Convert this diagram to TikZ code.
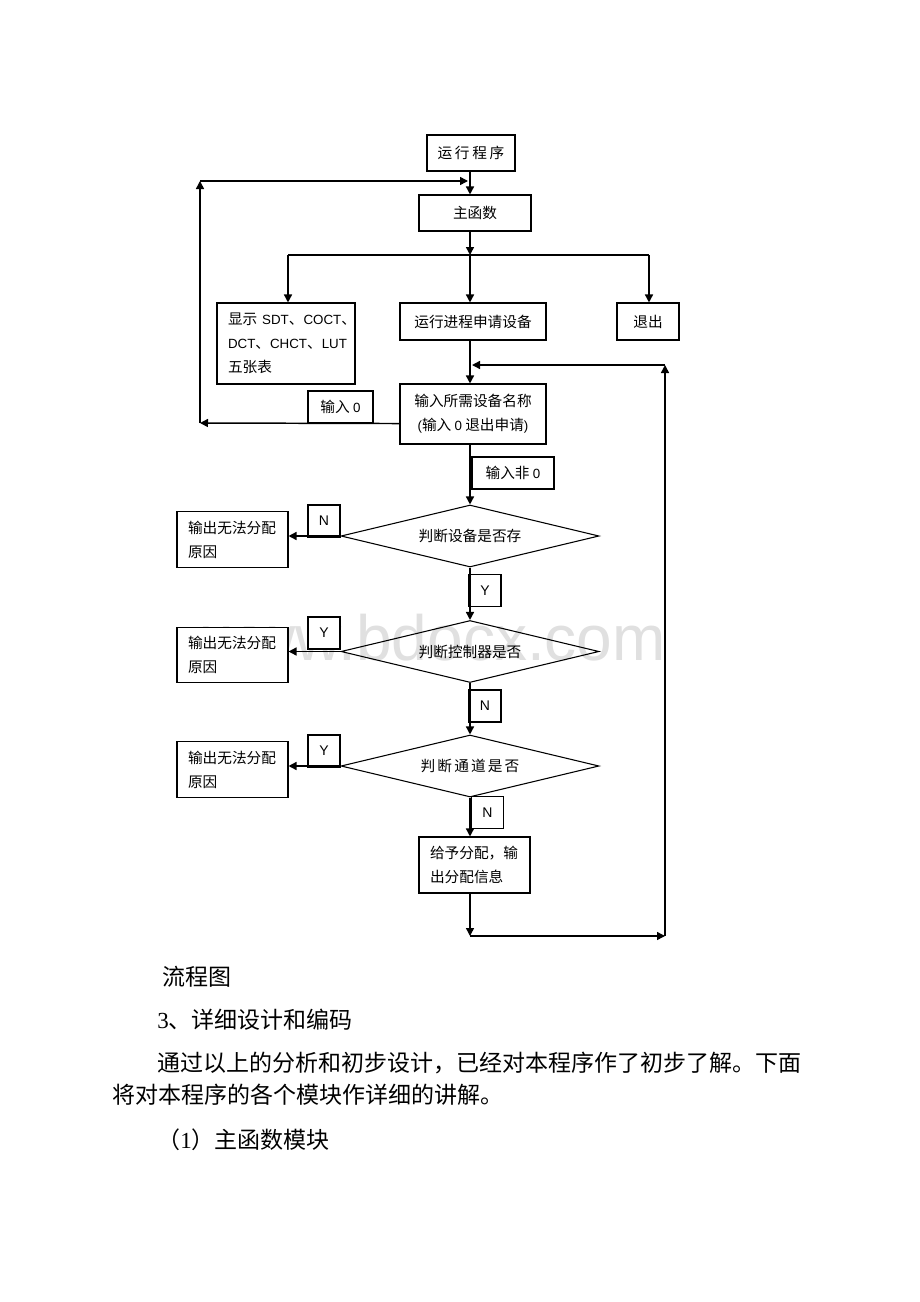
\documentclass[tikz,border=0pt]{standalone}
\usepackage{fontspec}
\setmainfont{Noto Sans CJK SC}
\newfontfamily\lat{Liberation Sans}
\newfontfamily\ser{Liberation Serif}
\newcommand\lt[1]{{\lat\fontsize{10pt}{18pt}\selectfont #1}}
\usetikzlibrary{shapes.geometric,arrows.meta}
\begin{document}
\begin{tikzpicture}[x=0.75pt,y=-0.75pt,
  box/.style={draw, line width=0.8pt, fill=white, inner sep=0pt, font=\fontsize{11pt}{18pt}\selectfont},
  lbox/.style={box, align=left, text width=#1, inner xsep=8.25pt},
  tag/.style={draw, line width=0.8pt, fill=white, minimum height=24pt, inner sep=0pt, font=\fontsize{11pt}{13pt}\selectfont},
  yn/.style={tag, minimum width=24pt, font=\lat\fontsize{10.5pt}{13pt}\selectfont},
  dec/.style={diamond, aspect=4.16, draw, line width=0.8pt, minimum width=193.5pt, minimum height=46.5pt, inner sep=0pt, font=\fontsize{11pt}{13pt}\selectfont},
  arr/.style={line width=1.1pt, -{Triangle[length=6pt,width=6pt]}},
  ln/.style={line width=1.1pt},
  body/.style={anchor=west, inner sep=0pt, font=\fontsize{17.25pt}{20pt}\selectfont}
]
\fill[white] (0,0) rectangle (920,1302);
\path[use as bounding box] (0,0) rectangle (920,1302);

% watermark
\node[anchor=base east, text=black!12, inner sep=0pt, font=\lat\fontsize{48pt}{48pt}\selectfont] (wm) at (666,660) {www.bdocx.com};

% boxes
\node[box, minimum width=66pt, minimum height=27pt] (run) at (471,153) {运\hspace{2pt}行\hspace{2pt}程\hspace{2pt}序};
\node[box, minimum width=84pt, minimum height=27pt] (main) at (475,213) {主函数};
\node[lbox=87pt, minimum height=60.75pt] (disp) at (286,343.5) {显示~\lt{SDT}、\lt{COCT}、\\\lt{DCT}、\lt{CHCT}、\lt{LUT}\\五张表};
\node[box, minimum width=109.5pt, minimum height=27.75pt] (apply) at (473,321.5) {运行进程申请设备};
\node[box, minimum width=46.5pt, minimum height=27.75pt] (quit) at (648,321.5) {退出};
\node[box, align=center, minimum width=109.5pt, minimum height=45pt] (inp) at (473,414) {输入所需设备名称\\\lt{(}输入~\lt{0}~退出申请\lt{)}};

\node[dec] (d1) at (470,536) {判断设备是否存};
\node[dec] (d2) at (470,651.5) {判断控制器是否};
\node[dec] (d3) at (470,766) {判\hspace{1.6pt}断\hspace{1.6pt}通\hspace{1.6pt}道\hspace{1.6pt}是\hspace{1.6pt}否};

\node[lbox=66.75pt, minimum height=41.5pt] (f1) at (232.5,539.5) {输出无法分配\\原因};
\node[lbox=66.75pt, minimum height=41.5pt] (f2) at (232.5,655) {输出无法分配\\原因};
\node[lbox=66.75pt, minimum height=41.5pt] (f3) at (232.5,769.5) {输出无法分配\\原因};
\node[lbox=66.75pt, minimum height=42pt] (give) at (474.5,865) {给予分配，输\\出分配信息};

% tags
\node[tag, minimum width=48.75pt] (lab0) at (340.5,407) {输入~\lt{0}};
\node[tag, minimum width=61.5pt] (labn0) at (513,473) {输入非~\lt{0}};
\node[yn] (lN1) at (324,521) {N};
\node[yn] (lY1) at (485,590.5) {Y};
\node[yn] (lY2) at (324,633) {Y};
\node[yn] (lN2) at (485,706) {N};
\node[yn] (lY3) at (324,751) {Y};
\node[yn] (lN3) at (487.5,812.5) {N};

% connectors
\coordinate (tx) at (470,0);
\draw[arr] (run.south -| tx) -- (main.north -| tx);
\coordinate (cL1) at (200,423);
\coordinate (cL2) at (200,181);
\coordinate (cL3) at (468,181);
\draw[arr] (inp.west |- lab0.south) -- (cL1);
\draw[arr] (cL1) -- (cL2);
\draw[arr] (cL2) -- (cL3);
\coordinate (br) at (470,255);
\coordinate (bl) at (288,255);
\coordinate (brr) at (649,255);
\draw[arr] (main.south -| tx) -- (br);
\draw[ln] (bl) -- (brr);
\draw[arr] (bl) -- (bl |- disp.north);
\draw[arr] (br) -- (apply.north -| tx);
\draw[arr] (brr) -- (brr |- quit.north);
\draw[arr] (apply.south -| tx) -- (inp.north -| tx);
\draw[arr] (inp.south -| tx) -- (d1.north);
\draw[arr] (d1.west) -- (d1.west -| f1.east);
\draw[arr] (d1.south) -- (d2.north);
\draw[arr] (d2.west) -- (d2.west -| f2.east);
\draw[arr] (d2.south) -- (d3.north);
\draw[arr] (d3.west) -- (d3.west -| f3.east);
\draw[arr] (d3.south) -- (give.north -| tx);
\coordinate (cb) at (470,936);
\coordinate (cr) at (665,936);
\coordinate (ct) at (665,365);
\coordinate (cti) at (472,365);
\draw[arr] (give.south -| tx) -- (cb);
\draw[arr] (cb) -- (cr);
\draw[arr] (cr) -- (ct);
\draw[arr] (ct) -- (cti);

% body text
\node[body] (t1) at (162,977) {流程图};
\node[body] (t2) at (157,1020) {{\ser 3}、详细设计和编码};
\node[body] (t3) at (157,1063) {通过以上的分析和初步设计，已经对本程序作了初步了解。下面};
\node[body] (t4) at (112,1095) {将对本程序的各个模块作详细的讲解。};
\node[body] (t5) at (157,1140) {（{\ser 1}）主函数模块};
\end{tikzpicture}
\end{document}
